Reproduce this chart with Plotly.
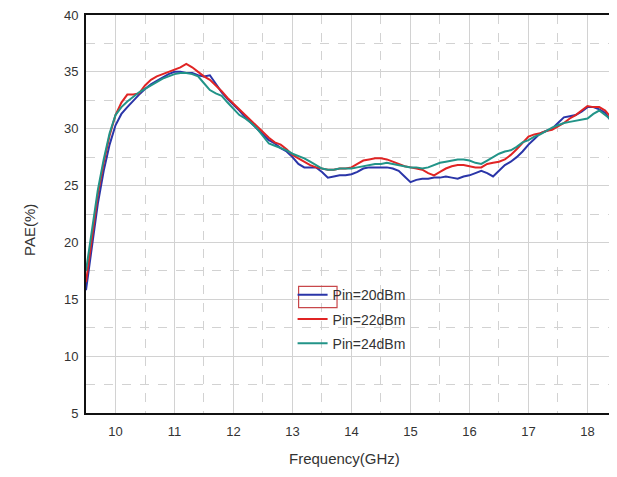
import plotly.graph_objects as go

freq = [round(9.5 + 0.1 * i, 1) for i in range(91)]

pin20 = [15.8, 19.8, 23.4, 26.3, 28.6, 30.3, 31.3, 31.9, 32.5, 33.0,
         33.5, 33.9, 34.2, 34.5, 34.8, 35.0, 35.0, 34.9, 34.9, 34.7,
         34.6, 34.7, 33.9, 33.2, 32.6, 32.1, 31.6, 31.0, 30.5, 30.0,
         29.5, 29.0, 28.7, 28.3, 28.0, 27.5, 26.9, 26.6, 26.6, 26.6,
         26.2, 25.7, 25.8, 25.9, 25.9, 26.0, 26.2, 26.5, 26.6, 26.6,
         26.6, 26.6, 26.5, 26.3, 25.8, 25.3, 25.5, 25.6, 25.6, 25.7,
         25.7, 25.8, 25.7, 25.6, 25.8, 25.9, 26.1, 26.3, 26.1, 25.8,
         26.3, 26.8, 27.1, 27.5, 28.0, 28.6, 29.1, 29.6, 29.8, 30.0,
         30.5, 31.0, 31.1, 31.2, 31.5, 31.9, 31.9, 31.7, 31.4, 30.7,
         29.9]

pin22 = [16.5, 20.5, 24.2, 27.0, 29.4, 31.2, 32.3, 33.0, 33.0, 33.1,
         33.8, 34.3, 34.6, 34.8, 35.0, 35.2, 35.4, 35.7, 35.4, 35.0,
         34.6, 34.3, 33.8, 33.3, 32.7, 32.2, 31.7, 31.2, 30.7, 30.2,
         29.7, 29.2, 28.8, 28.6, 28.2, 27.7, 27.4, 27.1, 26.8, 26.6,
         26.5, 26.4, 26.4, 26.5, 26.5, 26.6, 26.9, 27.2, 27.3, 27.4,
         27.4, 27.3, 27.1, 26.9, 26.7, 26.6, 26.5, 26.4, 26.1, 25.9,
         26.2, 26.5, 26.7, 26.8, 26.8, 26.7, 26.6, 26.6, 26.9, 27.0,
         27.1, 27.3, 27.7, 28.2, 28.8, 29.3, 29.5, 29.6, 29.8, 29.9,
         30.2, 30.5, 30.9, 31.2, 31.6, 32.0, 31.9, 31.9, 31.6, 31.0,
         30.2]

pin24 = [17.5, 21.0, 24.6, 27.3, 29.6, 31.2, 31.9, 32.4, 32.8, 33.2,
         33.5, 33.8, 34.1, 34.4, 34.6, 34.8, 34.9, 34.9, 34.8, 34.6,
         34.0, 33.4, 33.1, 32.9, 32.3, 31.7, 31.2, 30.9, 30.5, 30.0,
         29.3, 28.7, 28.5, 28.3, 28.1, 27.8, 27.6, 27.4, 27.1, 26.8,
         26.5, 26.4, 26.4, 26.5, 26.5, 26.5, 26.6, 26.7, 26.8, 26.9,
         26.9, 27.0, 26.9, 26.8, 26.7, 26.6, 26.6, 26.5, 26.6, 26.8,
         27.0, 27.1, 27.2, 27.3, 27.3, 27.2, 27.0, 26.9, 27.2, 27.5,
         27.8, 28.0, 28.1, 28.4, 28.8, 29.0, 29.3, 29.5, 29.8, 30.1,
         30.3, 30.5, 30.6, 30.7, 30.8, 30.9, 31.3, 31.6, 31.2, 30.8,
         30.1]

names = ["Pin=20dBm", "Pin=22dBm", "Pin=24dBm"]
colors = ["#2a35a8", "#e02424", "#229488"]
series = [pin20, pin22, pin24]

fig = go.Figure()
for n, c, s in zip(names, colors, series):
    fig.add_trace(go.Scatter(x=freq, y=s, mode="lines", name=n, legendgroup=n,
                             line=dict(color=c, width=2)))

grid = "#d2d2d2"
fam = "Liberation Sans, Arial, sans-serif"
font_tick = dict(family=fam, size=13, color="#333333")

# page has an 8px body margin: plot area in page ~86..609 x 15..413
fig.update_layout(
    width=601, height=461,
    margin=dict(l=78, r=0, t=7, b=56),
    paper_bgcolor="white", plot_bgcolor="white",
    showlegend=True,
    legend=dict(x=0.395, y=0.336, xanchor="left", yanchor="top",
                bgcolor="rgba(0,0,0,0)", borderwidth=0, tracegroupgap=3,
                font=dict(family=fam, size=14, color="#333333")),
    xaxis=dict(range=[9.5, 18.365], dtick=1, tick0=10, showgrid=True, gridcolor=grid, gridwidth=1,
               minor=dict(dtick=0.5, tick0=9.5, showgrid=True, gridcolor=grid, griddash="dash", gridwidth=1),
               showline=True, linecolor="#111111", linewidth=2, mirror=True,
               ticks="", tickfont=font_tick, zeroline=False, ticklabelstandoff=5),
    yaxis=dict(range=[5, 40], dtick=5, tick0=5, showgrid=True, gridcolor=grid, gridwidth=1,
               minor=dict(dtick=2.5, tick0=5, showgrid=True, gridcolor=grid, griddash="dash", gridwidth=1),
               showline=True, linecolor="#111111", linewidth=2, mirror=False,
               ticks="", tickfont=font_tick, zeroline=False, ticklabelstandoff=3,
               ticklabeloverflow="allow"),
    shapes=[
        dict(type="rect", xref="paper", yref="paper", x0=0.386, x1=0.686, y0=0.155, y1=0.33,
             fillcolor="white", line=dict(width=0), layer="between"),
        dict(type="rect", xref="paper", yref="paper", x0=0.4065, x1=0.48, y0=0.265, y1=0.318,
             fillcolor="rgba(0,0,0,0)", line=dict(color="#c8474a", width=1.2), layer="above"),
    ],
    annotations=[
        dict(text="Frequency(GHz)", x=0.495, y=-0.114, xref="paper", yref="paper",
             xanchor="center", yanchor="middle", showarrow=False,
             font=dict(family=fam, size=15, color="#333333")),
        dict(text="PAE(%)", x=-0.107, y=0.46, xref="paper", yref="paper", textangle=-90,
             xanchor="center", yanchor="middle", showarrow=False,
             font=dict(family=fam, size=15, color="#333333")),
    ],
)

fig.write_html("out.html")
